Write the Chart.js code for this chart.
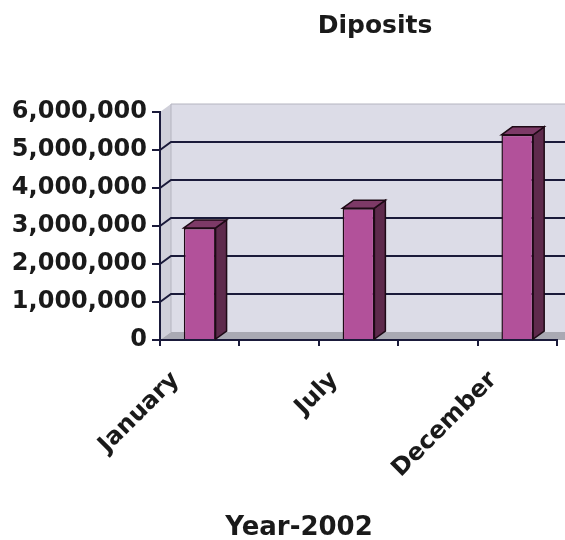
<!DOCTYPE html>
<html>
<head>
<meta charset="utf-8">
<script src="https://cdn.jsdelivr.net/npm/chart.js@4.4.0/dist/chart.umd.min.js"></script>
<style>
  html, body { margin: 0; padding: 0; background: #fff; }
</style>
</head>
<body>
<canvas id="depositsChart" width="565" height="540"></canvas>
<script>
// values
const categories = ['January', '', 'July', '', 'December'];
const deposits = [2950000, null, 3470000, null, 5400000];
const yMin = 0;
const yMax = 6000000;
const yStep = 1000000;

const chartTitle = 'Diposits';
const xTitle = 'Year-2002';

const FONT = '"DejaVu Sans", sans-serif';
const DX = 11, DY = -8; // fake 3d depth

function poly(ctx, pts, fill, stroke) {
  ctx.beginPath();
  ctx.moveTo(pts[0][0], pts[0][1]);
  for (let i = 1; i < pts.length; i++) ctx.lineTo(pts[i][0], pts[i][1]);
  ctx.closePath();
  ctx.fillStyle = fill;
  ctx.fill();
  if (stroke) {
    ctx.strokeStyle = stroke;
    ctx.lineWidth = 1.5;
    ctx.stroke();
  }
}

const fakeDepth = {
  id: 'fakeDepth',
  beforeDraw(chart) {
    const { ctx, chartArea: a, scales: { y } } = chart;
    const W = chart.width;
    ctx.save();
    // back wall
    ctx.fillStyle = '#dcdce7';
    ctx.fillRect(a.left + DX, a.top + DY, W - a.left - DX, a.bottom - a.top);
    // left wall
    poly(ctx, [[a.left, a.top], [a.left + DX, a.top + DY], [a.left + DX, a.bottom + DY], [a.left, a.bottom]], '#d0d0da');
    // floor
    poly(ctx, [[a.left, a.bottom], [a.left + DX, a.bottom + DY], [W, a.bottom + DY], [W, a.bottom]], '#a9a9b3');
    // wall edges
    ctx.strokeStyle = '#b4b4c0';
    ctx.lineWidth = 1;
    ctx.beginPath();
    ctx.moveTo(a.left + DX, a.bottom + DY);
    ctx.lineTo(a.left + DX, a.top + DY);
    ctx.lineTo(W, a.top + DY);
    ctx.stroke();
    // gridlines on the back wall
    ctx.strokeStyle = '#1a1a3a';
    ctx.lineWidth = 2;
    y.ticks.forEach(t => {
      if (t.value === yMin || t.value === yMax) return;
      const py = y.getPixelForValue(t.value);
      ctx.beginPath();
      ctx.moveTo(a.left, py);
      ctx.lineTo(a.left + DX, py + DY);
      ctx.lineTo(W, py + DY);
      ctx.stroke();
    });
    ctx.restore();
  },
  afterDatasetsDraw(chart) {
    const { ctx } = chart;
    const meta = chart.getDatasetMeta(0);
    ctx.save();
    meta.data.forEach((bar, i) => {
      if (deposits[i] == null) return;
      const { x, y, width, base } = bar.getProps(['x', 'y', 'width', 'base'], true);
      const l = x - width / 2, r = x + width / 2;
      poly(ctx, [[r, y], [r + DX, y + DY], [r + DX, base + DY], [r, base]], '#5e2a4c', '#1e0a16');
      poly(ctx, [[l, y], [l + DX, y + DY], [r + DX, y + DY], [r, y]], '#7d3a67', '#1e0a16');
    });
    ctx.restore();
  },
  afterDraw(chart) {
    const { ctx } = chart;
    ctx.save();
    ctx.fillStyle = '#1a1a1a';
    ctx.textAlign = 'center';
    ctx.textBaseline = 'alphabetic';
    ctx.font = 'bold 25px ' + FONT;
    ctx.fillText(chartTitle, 375, 33);
    ctx.font = 'bold 26px ' + FONT;
    ctx.fillText(xTitle, 299, 535);
    ctx.restore();
  }
};

new Chart(document.getElementById('depositsChart'), {
  type: 'bar',
  data: {
    labels: categories,
    datasets: [{
      data: deposits,
      backgroundColor: '#b2519a',
      borderColor: '#1e0a16',
      borderWidth: 1.5,
      barPercentage: 0.4,
      categoryPercentage: 1
    }]
  },
  options: {
    responsive: false,
    animation: false,
    layout: { padding: { top: 112, right: 8, left: 0, bottom: 0 } },
    plugins: {
      legend: { display: false },
      tooltip: { enabled: false },
      title: { display: false }
    },
    scales: {
      x: {
        offset: true,
        grid: { offset: true, drawOnChartArea: false, drawTicks: true, tickLength: 6, color: '#1a1a3a', lineWidth: 2 },
        border: { display: true, color: '#1a1a3a', width: 2 },
        ticks: {
          autoSkip: false,
          minRotation: 45,
          maxRotation: 45,
          labelOffset: -24,
          padding: 20,
          color: '#1a1a1a',
          font: { family: FONT, size: 24, weight: 'bold' }
        },
        afterFit(s) { s.height = 200; }
      },
      y: {
        min: yMin,
        max: yMax,
        grid: { drawOnChartArea: false, drawTicks: true, tickLength: 8, color: '#1a1a3a', lineWidth: 2 },
        border: { display: true, color: '#1a1a3a', width: 2 },
        ticks: {
          stepSize: yStep,
          padding: 5,
          color: '#1a1a1a',
          font: { family: FONT, size: 24, weight: 'bold' },
          callback: v => v.toLocaleString('en-US')
        },
        afterFit(s) { s.width = 160; }
      }
    }
  },
  plugins: [fakeDepth]
});
</script>
</body>
</html>
